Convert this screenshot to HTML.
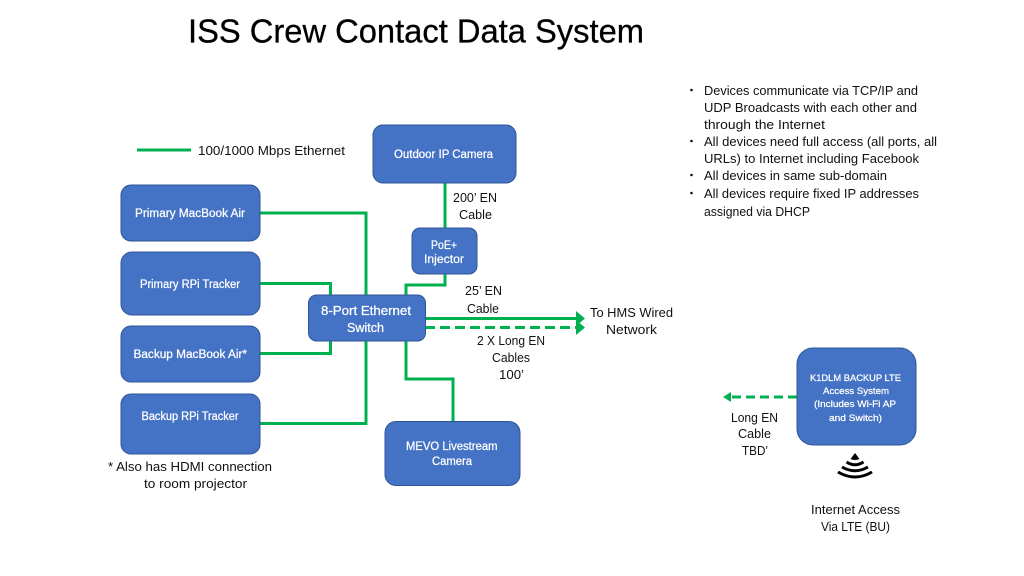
<!DOCTYPE html>
<html><head><meta charset="utf-8"><style>
html,body{margin:0;padding:0;background:#fff;width:1024px;height:576px;overflow:hidden}
svg{display:block}
text{font-family:"Liberation Sans",sans-serif;font-size:12.5px;fill:#111}
.w text{fill:#fff;stroke:#fff;stroke-width:.25px}
rect{fill:#4472c4;stroke:#2f5597;stroke-width:1}
.g{fill:none;stroke:#00b050;stroke-width:3}
</style></head><body>
<svg width="1024" height="576" viewBox="0 0 1024 576" xmlns="http://www.w3.org/2000/svg">
<text x="188" y="42.500" style="font-size:33.500px;fill:#000;stroke:#000;stroke-width:.3px" textLength="456" lengthAdjust="spacingAndGlyphs">ISS Crew Contact Data System</text>

<path class="g" d="M137 150H191"/>
<path class="g" d="M260 213H366V295"/>
<path class="g" d="M260 283.500H330.500V295"/>
<path class="g" d="M260 353.500H330.500V341"/>
<path class="g" d="M260 423.500H366V341"/>
<path class="g" d="M406 341V379H453V421"/>
<path class="g" d="M445 183V228"/>
<path class="g" d="M445 274V285H406V295"/>
<path class="g" d="M425 318.500H577"/>
<path d="M576 311L585 318.500L576 326Z" fill="#00b050"/>
<path class="g" d="M425 327.500H577" stroke-dasharray="10 5"/>
<path d="M576 320L585 327.500L576 335Z" fill="#00b050"/>
<path class="g" d="M797 397H731" stroke-dasharray="9 5"/>
<path d="M731 392L723 397L731 402Z" fill="#00b050"/>

<rect x="121" y="185" width="139" height="56" rx="10"/>
<rect x="121" y="252" width="139" height="63" rx="11"/>
<rect x="121" y="326" width="139" height="56" rx="10"/>
<rect x="121" y="394" width="139" height="60" rx="10"/>
<rect x="308.500" y="295" width="117" height="46" rx="8"/>
<rect x="412" y="228" width="65" height="46" rx="8"/>
<rect x="373" y="125" width="143" height="58" rx="10"/>
<rect x="385" y="421.500" width="135" height="64" rx="11"/>
<rect x="797" y="348" width="119" height="97" rx="16"/>

<g class="w">
<text x="135" y="217" style="font-size:11.500px" textLength="110" lengthAdjust="spacingAndGlyphs">Primary MacBook Air</text>
<text x="140" y="288" style="font-size:11.500px" textLength="100" lengthAdjust="spacingAndGlyphs">Primary RPi Tracker</text>
<text x="133.500" y="358" style="font-size:11.500px" textLength="113.500" lengthAdjust="spacingAndGlyphs">Backup MacBook Air*</text>
<text x="141.500" y="420" style="font-size:11.500px" textLength="97" lengthAdjust="spacingAndGlyphs">Backup RPi Tracker</text>
<text x="394" y="158" style="font-size:11.500px" textLength="99" lengthAdjust="spacingAndGlyphs">Outdoor IP Camera</text>
<text x="431" y="249" style="font-size:11.500px" textLength="26" lengthAdjust="spacingAndGlyphs">PoE+</text>
<text x="424" y="263" style="font-size:11.500px" textLength="40" lengthAdjust="spacingAndGlyphs">Injector</text>
<text x="321" y="315" style="font-size:12.500px" textLength="90" lengthAdjust="spacingAndGlyphs">8-Port Ethernet</text>
<text x="347" y="332" style="font-size:12.500px" textLength="37" lengthAdjust="spacingAndGlyphs">Switch</text>
<text x="406" y="450" style="font-size:11.500px" textLength="91.500" lengthAdjust="spacingAndGlyphs">MEVO Livestream</text>
<text x="432" y="465" style="font-size:11.500px" textLength="40" lengthAdjust="spacingAndGlyphs">Camera</text>
<text x="810" y="381" style="font-size:9.500px" textLength="91" lengthAdjust="spacingAndGlyphs">K1DLM BACKUP LTE</text>
<text x="823" y="394" style="font-size:9.500px" textLength="66" lengthAdjust="spacingAndGlyphs">Access System</text>
<text x="814" y="407" style="font-size:9.500px" textLength="82" lengthAdjust="spacingAndGlyphs">(Includes Wi-Fi AP</text>
<text x="829" y="421" style="font-size:9.500px" textLength="53" lengthAdjust="spacingAndGlyphs">and Switch)</text>
</g>

<text x="198" y="155" textLength="147" lengthAdjust="spacingAndGlyphs">100/1000 Mbps Ethernet</text>
<text x="108" y="471" textLength="164" lengthAdjust="spacingAndGlyphs">* Also has HDMI connection</text>
<text x="144" y="488" textLength="103" lengthAdjust="spacingAndGlyphs">to room projector</text>
<text x="453" y="202" textLength="44" lengthAdjust="spacingAndGlyphs">200’ EN</text>
<text x="459" y="219" textLength="33" lengthAdjust="spacingAndGlyphs">Cable</text>
<text x="465" y="295" textLength="37" lengthAdjust="spacingAndGlyphs">25’ EN</text>
<text x="467" y="313" textLength="32" lengthAdjust="spacingAndGlyphs">Cable</text>
<text x="590" y="317" textLength="83" lengthAdjust="spacingAndGlyphs">To HMS Wired</text>
<text x="606" y="334" textLength="51" lengthAdjust="spacingAndGlyphs">Network</text>
<text x="477" y="345" textLength="68" lengthAdjust="spacingAndGlyphs">2 X Long EN</text>
<text x="492" y="362" textLength="38" lengthAdjust="spacingAndGlyphs">Cables</text>
<text x="499" y="379" textLength="25" lengthAdjust="spacingAndGlyphs">100’</text>
<text x="731" y="422" textLength="47" lengthAdjust="spacingAndGlyphs">Long EN</text>
<text x="738" y="438" textLength="33" lengthAdjust="spacingAndGlyphs">Cable</text>
<text x="742" y="455" textLength="26" lengthAdjust="spacingAndGlyphs">TBD’</text>
<text x="811" y="514" textLength="89" lengthAdjust="spacingAndGlyphs">Internet Access</text>
<text x="821" y="531" textLength="69" lengthAdjust="spacingAndGlyphs">Via LTE (BU)</text>

<g>
<circle cx="691.500" cy="90" r="1.300" fill="#111"/>
<circle cx="691.500" cy="141" r="1.300" fill="#111"/>
<circle cx="691.500" cy="175" r="1.300" fill="#111"/>
<circle cx="691.500" cy="193" r="1.300" fill="#111"/>
<text x="704" y="95" textLength="214" lengthAdjust="spacingAndGlyphs">Devices communicate via TCP/IP and</text>
<text x="704" y="112" textLength="213" lengthAdjust="spacingAndGlyphs">UDP Broadcasts with each other and</text>
<text x="704" y="129" textLength="121" lengthAdjust="spacingAndGlyphs">through the Internet</text>
<text x="704" y="146" textLength="233" lengthAdjust="spacingAndGlyphs">All devices need full access (all ports, all</text>
<text x="704" y="163" textLength="215" lengthAdjust="spacingAndGlyphs">URLs) to Internet including Facebook</text>
<text x="704" y="180" textLength="183" lengthAdjust="spacingAndGlyphs">All devices in same sub-domain</text>
<text x="704" y="198" textLength="215" lengthAdjust="spacingAndGlyphs">All devices require fixed IP addresses</text>
<text x="704" y="216" textLength="106" lengthAdjust="spacingAndGlyphs">assigned via DHCP</text>
</g>

<g fill="none" stroke="#000" stroke-width="3">
<path d="M855 453L850.500 459Q855 461 859.500 459Z" fill="#000" stroke="none"/>
<path d="M846.500 462Q855 467.500 863.500 462"/>
<path d="M842 467Q855 474.500 868 467"/>
<path d="M838 472Q855 482 872 472"/>
</g>
</svg>
</body></html>
